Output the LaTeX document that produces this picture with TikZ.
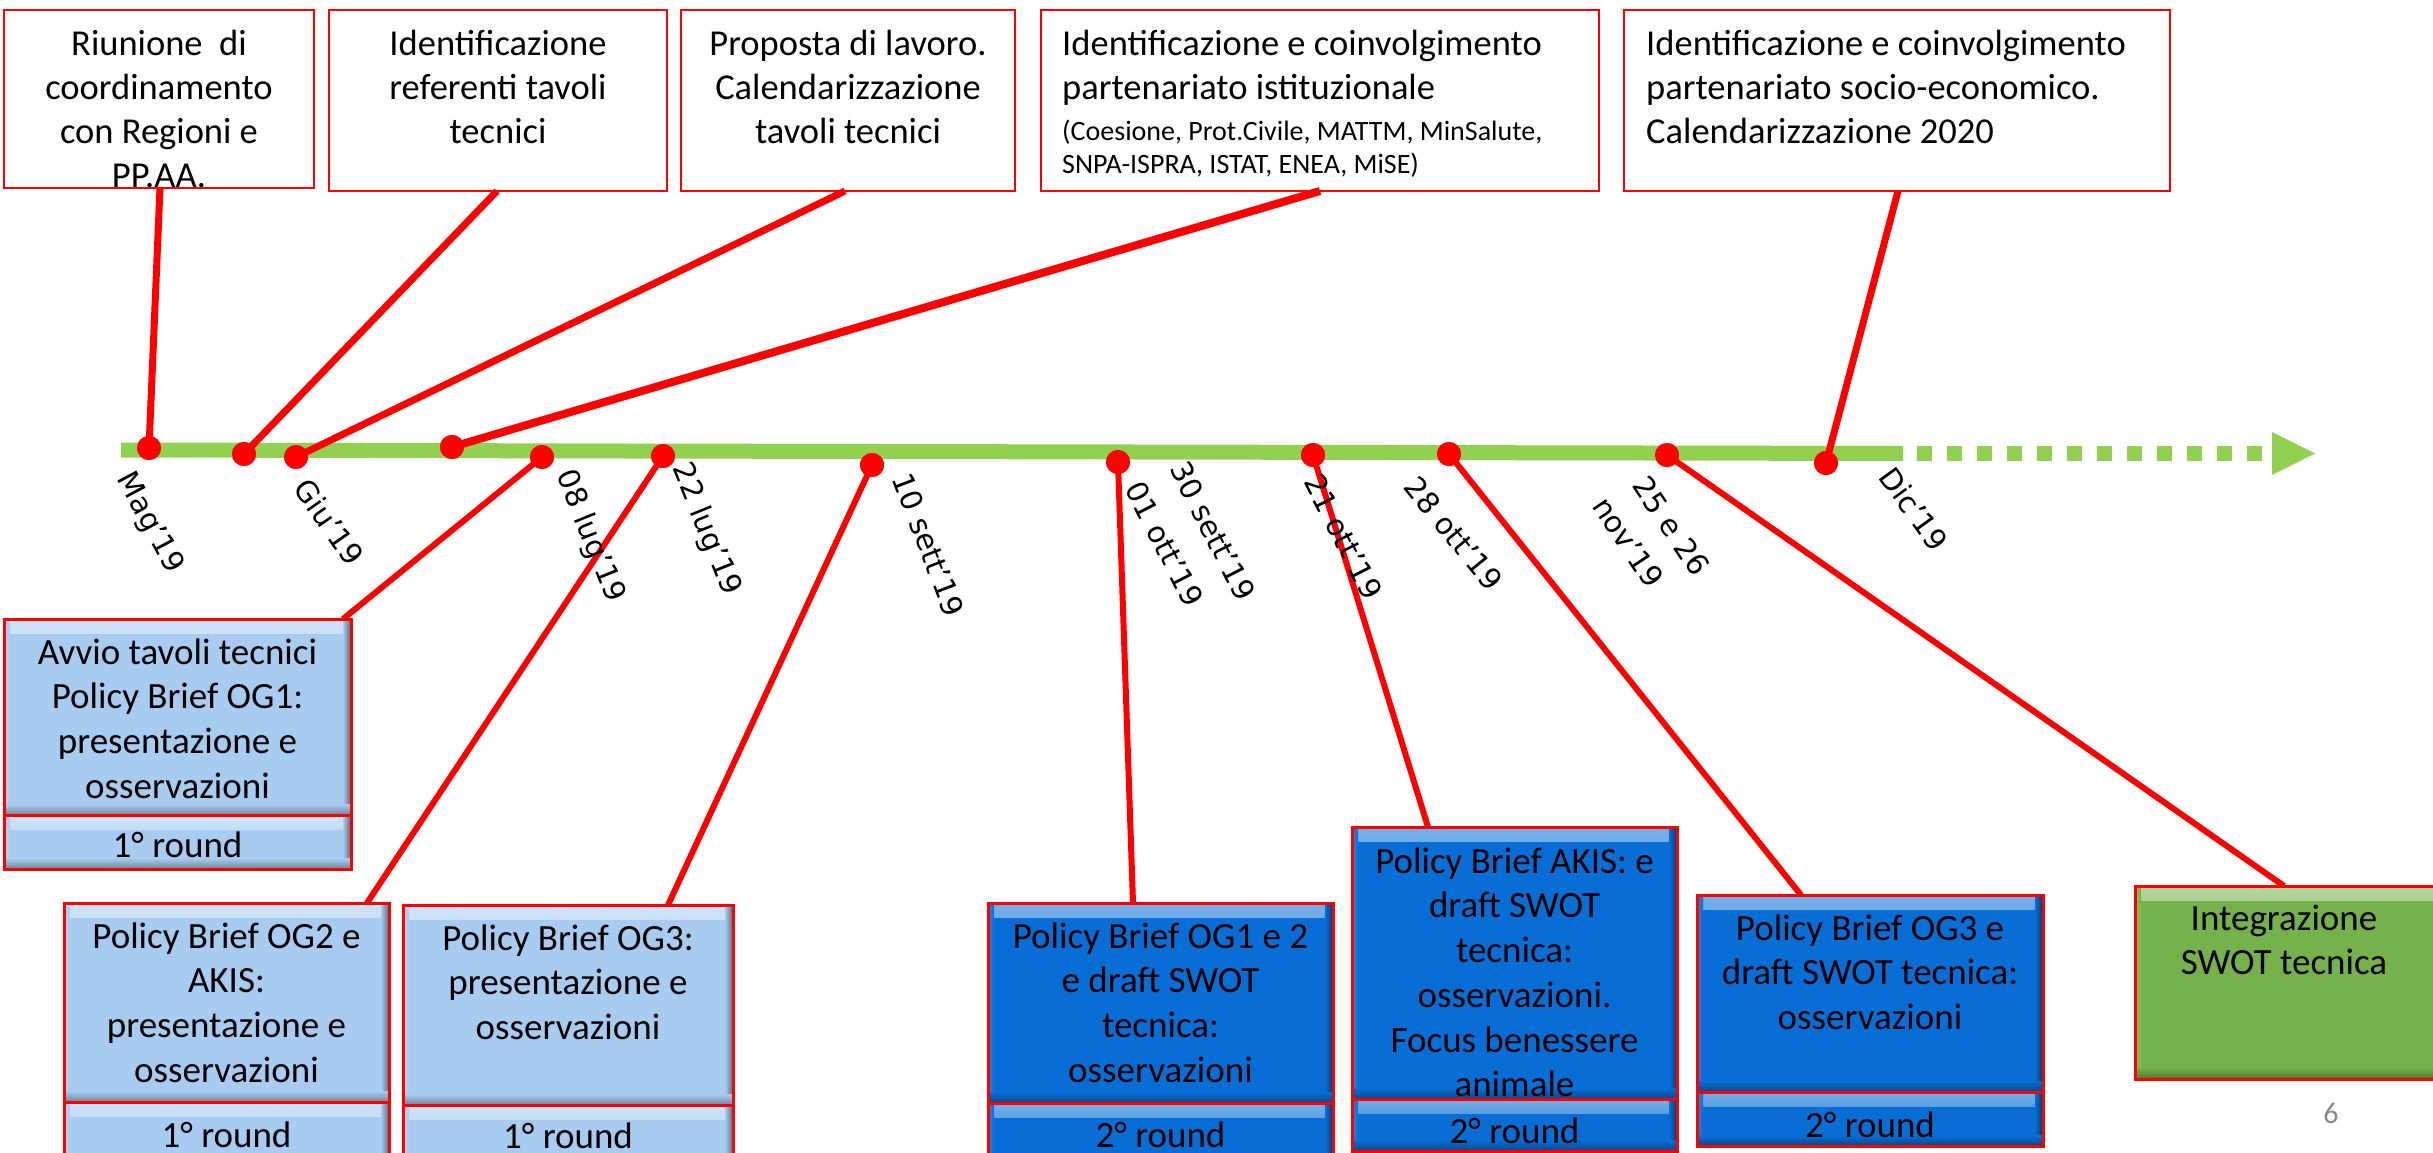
\documentclass[tikz,border=0pt]{standalone}
\usepackage{fontspec}
\setmainfont{Carlito}
\newfontfamily\datefont{DejaVu Sans}
\definecolor{tlgreen}{RGB}{146,208,80}
\definecolor{lblue}{RGB}{168,204,240}
\definecolor{dblue}{RGB}{8,110,214}
\definecolor{gbox}{RGB}{118,178,76}
\definecolor{pgrey}{RGB}{137,137,137}
\tikzset{
  topbox/.style={draw=red, line width=2.5pt, fill=white, inner sep=0pt, outer sep=0pt},
  bevel/.style={draw=red, line width=3pt, fill=#1, inner sep=0pt, outer sep=0pt,
    path picture={
      \shade[top color=#1!55!white, bottom color=#1] (path picture bounding box.north west) rectangle ([yshift=-14pt]path picture bounding box.north east);
      \shade[left color=#1!85!white, right color=#1] (path picture bounding box.north west) rectangle ([xshift=6pt]path picture bounding box.south west);
      \shade[left color=#1, right color=#1!50!black] ([xshift=-8pt]path picture bounding box.north east) rectangle (path picture bounding box.south east);
      \shade[top color=#1, bottom color=#1!65!black] ([yshift=11pt]path picture bounding box.south west) rectangle (path picture bounding box.south east);
    }},
  conn/.style={draw=red, line width=7pt},
  bconn/.style={draw=red, line width=6pt},
  dot/.style={circle, fill=red, inner sep=0pt, minimum size=24pt},
  ttext/.style={font=\fontsize{36.5}{44}\selectfont, align=center, inner sep=0pt, anchor=north},
  tltext/.style={font=\fontsize{36.5}{44}\selectfont, align=left, inner sep=0pt, anchor=north west},
  stext/.style={font=\fontsize{28}{33.5}\selectfont, align=left, inner sep=0pt, anchor=north west},
  btext/.style={font=\fontsize{37}{44.7}\selectfont, align=center, inner sep=0pt, anchor=north},
  rtext/.style={font=\fontsize{37}{44}\selectfont, inner sep=0pt, anchor=base},
  dlabel/.style={font=\datefont\fontsize{29.5}{48}\selectfont, inner sep=0pt, anchor=west},
}
\newcommand\boxat[6]{\node[#2, minimum width={#5-#3}, minimum height={#6-#4}] (#1) at ({(#3+#5)/2},{(#4+#6)/2}) {};}
\begin{document}
\begin{tikzpicture}[x=1pt, y=-1pt]
\useasboundingbox (0,0) rectangle (2433,1152);
\clip (0,0) rectangle (2433,1152);

% top boxes
\boxat{box1}{topbox}{4}{10}{314}{188}
\boxat{box2}{topbox}{329}{10}{667}{191}
\boxat{box3}{topbox}{681}{10}{1015}{191}
\boxat{box4}{topbox}{1041}{10}{1599}{191}
\boxat{box5}{topbox}{1624}{10}{2170}{191}

% timeline
\coordinate (tlA) at (121,450);
\coordinate (tlB) at (1903,453.5);
\coordinate (tlC) at (1917,453.5);
\coordinate (tlD) at (2272,453.5);
\coordinate (tlT) at (2315,453.5);
\draw[tlgreen, line width=15pt] (tlA) -- (tlB);
\draw[tlgreen, line width=15pt, dash pattern=on 15pt off 15pt] (tlC) -- (tlD);
\fill[tlgreen] ([yshift=21.5pt]tlD) -- (tlT) -- ([yshift=-21.5pt]tlD) -- cycle;

% dots
\node[dot] (d1) at (149,448) {};
\node[dot] (d2) at (244,454) {};
\node[dot] (d3) at (296,457) {};
\node[dot] (d4) at (452,447) {};
\node[dot] (d5) at (542,457) {};
\node[dot] (d6) at (663,456) {};
\node[dot] (d7) at (872,465) {};
\node[dot] (d8) at (1118,462) {};
\node[dot] (d9) at (1313,455) {};
\node[dot] (d10) at (1449,454) {};
\node[dot] (d11) at (1667,455) {};
\node[dot] (d12) at (1826,463) {};

% bottom boxes
\boxat{og1}{bevel=lblue}{4}{619}{351}{815}
\boxat{og1r}{bevel=lblue}{4}{815}{351}{869}
\boxat{og2}{bevel=lblue}{64}{903}{389}{1102}
\boxat{og2r}{bevel=lblue}{64}{1102}{389}{1165}
\boxat{og3}{bevel=lblue}{403}{905}{733}{1105}
\boxat{og3r}{bevel=lblue}{403}{1105}{733}{1165}
\boxat{og12}{bevel=dblue}{988}{903}{1333}{1103}
\boxat{og12r}{bevel=dblue}{988}{1103}{1333}{1165}
\boxat{akis}{bevel=dblue}{1352}{827}{1677}{1099}
\boxat{akisr}{bevel=dblue}{1352}{1099}{1677}{1151}
\boxat{og3e}{bevel=dblue}{1697}{895}{2043}{1092}
\boxat{og3er}{bevel=dblue}{1697}{1092}{2043}{1146}
\boxat{integ}{bevel=gbox}{2135}{886}{2445}{1079}

% connectors
\draw[conn] ([xshift=156pt]box1.south west) -- (d1.center);
\draw[conn] ([xshift=168pt]box2.south west) -- (d2.center);
\draw[conn] ([xshift=164pt]box3.south west) -- (d3.center);
\draw[conn, line width=8pt] ([xshift=279pt]box4.south west) -- (d4.center);
\draw[conn] ([xshift=274pt]box5.south west) -- (d12.center);
\draw[bconn] (d5.center) -- ([xshift=339pt]og1.north west);
\draw[bconn] (d6.center) -- ([xshift=303pt]og2.north west);
\draw[bconn] (d7.center) -- ([xshift=265pt]og3.north west);
\draw[bconn] (d8.center) -- ([xshift=145pt]og12.north west);
\draw[bconn] (d9.center) -- ([xshift=76pt]akis.north west);
\draw[bconn] (d10.center) -- ([xshift=104pt]og3e.north west);
\draw[bconn] (d11.center) -- ([xshift=149pt]integ.north west);
% dots on top of the connectors
\foreach \n in {d1,d2,d3,d4,d5,d6,d7,d8,d9,d10,d11,d12}
  \fill[red] (\n) circle (12pt);

% top texts
\node[ttext] (t1) at (159,24.2) {\strut Riunione\ \ di\\coordinamento\\con Regioni e\\PP.AA.};
\node[ttext] (t2) at (498,24.2) {\strut Identificazione\\referenti tavoli\\tecnici};
\node[ttext] (t3) at (848,24.2) {\strut Proposta di lavoro.\\Calendarizzazione\\tavoli tecnici};
\node[tltext] (t4) at (1062,24.2) {\strut Identificazione e coinvolgimento\\partenariato istituzionale};
\node[stext] (t4s) at (1062,116.5) {\strut (Coesione, Prot.Civile, MATTM, MinSalute,\\SNPA-ISPRA, ISTAT, ENEA, MiSE)};
\node[tltext] (t5) at (1646,24.2) {\strut Identificazione e coinvolgimento\\partenariato socio-economico.\\Calendarizzazione 2020};

% bottom texts
\node[btext] (tog1) at (177.5,632.7) {\strut Avvio tavoli tecnici\\Policy Brief OG1:\\presentazione e\\osservazioni};
\node[rtext] (tog1r) at (177.5,857) {1° round};
\node[btext] (tog2) at (226.5,916.7) {\strut Policy Brief OG2 e\\AKIS:\\presentazione e\\osservazioni};
\node[rtext] (tog2r) at (226.5,1147) {1° round};
\node[btext] (tog3) at (568,918.7) {\strut Policy Brief OG3:\\presentazione e\\osservazioni};
\node[rtext] (tog3r) at (568,1148) {1° round};
\node[btext] (tog12) at (1160.5,916.7) {\strut Policy Brief OG1 e 2\\e draft SWOT\\tecnica:\\osservazioni};
\node[rtext] (tog12r) at (1160.5,1147) {2° round};
\node[btext] (takis) at (1514.5,841.7) {\strut Policy Brief AKIS: e\\draft SWOT\\tecnica:\\osservazioni.\\Focus benessere\\animale};
\node[rtext] (takisr) at (1514.5,1143) {2° round};
\node[btext] (tog3e) at (1870,908.7) {\strut Policy Brief OG3 e\\draft SWOT tecnica:\\osservazioni};
\node[rtext] (tog3er) at (1870,1137) {2° round};
\node[btext] (tinteg) at (2284,898.7) {\strut Integrazione\\SWOT tecnica};

% date labels
\node[dlabel, rotate=-62] (l1) at (123.6,474.8) {Mag’19};
\node[dlabel, rotate=-55] (l2) at (301.7,482.4) {Giu’19};
\node[dlabel, rotate=-68] (l3) at (563.5,471.4) {08 lug’19};
\node[dlabel, rotate=-68] (l4) at (679.5,464.4) {22 lug’19};
\node[dlabel, rotate=-69] (l5) at (901.7,474.3) {10 sett’19};
\node[dlabel, rotate=-63] (l6) at (1178.8,463.7) {30 sett’19};
\node[dlabel, rotate=-63] (l7) at (1133.8,483.7) {01 ott’19};
\node[dlabel, rotate=-63] (l8) at (1312.8,476.7) {21 ott’19};
\node[dlabel, rotate=-51] (l9) at (1411.2,480.8) {28 ott’19};
\node[dlabel, rotate=-56] (l10) at (1639.8,479.3) {25 e 26};
\node[dlabel, rotate=-56] (l11) at (1599.8,500.3) {nov’19};
\node[dlabel, rotate=-54] (l12) at (1886.5,470.5) {Dic’19};

% page number
\node[font=\fontsize{30}{36}\selectfont, text=pgrey, inner sep=0pt, anchor=base] (pnum) at (2331,1123) {6};
\end{tikzpicture}
\end{document}
